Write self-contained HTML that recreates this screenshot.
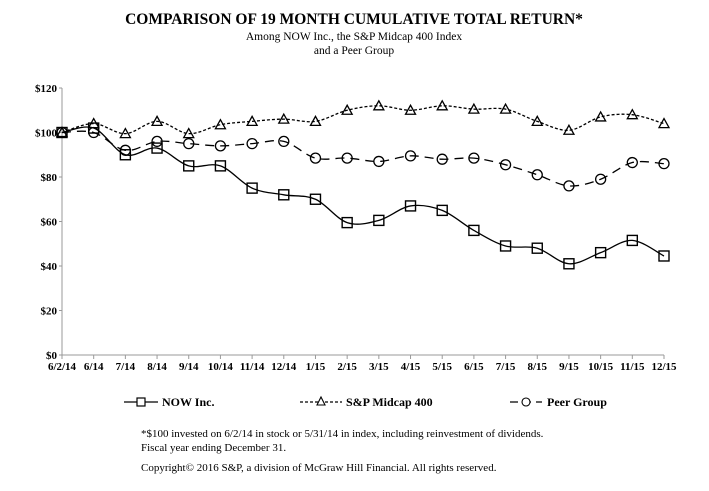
<!DOCTYPE html>
<html><head><meta charset="utf-8"><style>
body{margin:0;background:#fff;width:709px;height:486px;overflow:hidden;font-family:"Liberation Serif",serif;}
svg text{font-family:"Liberation Serif",serif;}
</style></head><body>
<svg id="c" width="709" height="486">
<text x="354" y="24" text-anchor="middle" font-size="15.5" font-weight="bold">COMPARISON OF 19 MONTH CUMULATIVE TOTAL RETURN*</text>
<text x="354" y="40" text-anchor="middle" font-size="11.5">Among NOW Inc., the S&amp;P Midcap 400 Index</text>
<text x="354" y="54" text-anchor="middle" font-size="11.5">and a Peer Group</text>
<g id="axes"></g><g id="series"></g>
<g>
<g><line x1="124" y1="402" x2="158" y2="402" stroke="#000" stroke-width="1.3"/><rect x="137" y="398" width="8" height="8" fill="#fff" stroke="#000" stroke-width="1.2"/><text x="162" y="406" font-size="12" font-weight="bold">NOW Inc.</text></g>
<g><line x1="300" y1="402" x2="342" y2="402" stroke="#000" stroke-width="1.2" stroke-dasharray="3,2"/><path d="M321 397 L325 405 L317 405 Z" fill="#fff" stroke="#000" stroke-width="1.1"/><text x="346" y="406" font-size="12" font-weight="bold">S&amp;P Midcap 400</text></g>
<g><line x1="510" y1="402" x2="542" y2="402" stroke="#000" stroke-width="1.3" stroke-dasharray="8,5"/><circle cx="526" cy="402" r="4" fill="#fff" stroke="#000" stroke-width="1.1"/><text x="547" y="406" font-size="12" font-weight="bold">Peer Group</text></g>
</g>
<text x="141" y="437" font-size="11">*$100 invested on 6/2/14 in stock or 5/31/14 in index, including reinvestment of dividends.</text>
<text x="141" y="451" font-size="11">Fiscal year ending December 31.</text>
<text x="141" y="471" font-size="11">Copyright© 2016 S&amp;P, a division of McGraw Hill Financial. All rights reserved.</text>
</svg>
<script>
const categories=["6/2/14","6/14","7/14","8/14","9/14","10/14","11/14","12/14","1/15","2/15","3/15","4/15","5/15","6/15","7/15","8/15","9/15","10/15","11/15","12/15"];
const nowInc=[100,102,90,93,85,85,75,72,70,59.5,60.5,67,65,56,49,48,41,46,51.5,44.5];
const spMidcap=[100,104,99.5,105,99.5,103.5,105,106,105,110,112,110,112,110.5,110.5,105,101,107,108,104];
const peerGroup=[100,100,92,96,95,94,95,96,88.5,88.5,87,89.5,88,88.5,85.5,81,76,79,86.5,86];
const yTicks=[0,20,40,60,80,100,120];
const NS="http://www.w3.org/2000/svg";
const x0=62,x1=664,yBase=355,yTop=88;
const xS=i=>x0+i*(x1-x0)/(categories.length-1);
const yS=v=>yBase-(v/120)*(yBase-yTop);
function mk(t,a,p){const e=document.createElementNS(NS,t);for(const k in a)e.setAttribute(k,a[k]);p.appendChild(e);return e;}
const ax=document.getElementById('axes'),sg=document.getElementById('series');
let e=mk('line',{x1:x0,y1:yBase,x2:x1,y2:yBase,stroke:'#999','stroke-width':1},ax);

e=mk('line',{x1:x0,y1:yTop,x2:x0,y2:yBase,stroke:'#999','stroke-width':1},ax);

yTicks.forEach(v=>{const y=yS(v);mk('line',{x1:x0-3,y1:y,x2:x0,y2:y,stroke:'#999'},ax);
const t=mk('text',{x:x0-5,y:y+4,'text-anchor':'end','font-size':'11','font-weight':'bold'},ax);t.textContent='$'+v;
});
categories.forEach((c,i)=>{const x=xS(i);mk('line',{x1:x,y1:yBase,x2:x,y2:yBase+4,stroke:'#999'},ax);
const t=mk('text',{x:x,y:yBase+15,'text-anchor':'middle','font-size':'11','font-weight':'bold'},ax);t.textContent=c;
});
function smooth(pts){let d='M'+pts[0][0]+' '+pts[0][1];for(let i=0;i<pts.length-1;i++){const p0=pts[i-1]||pts[i],p1=pts[i],p2=pts[i+1],p3=pts[i+2]||p2;
const c1=[p1[0]+(p2[0]-p0[0])/6,p1[1]+(p2[1]-p0[1])/6],c2=[p2[0]-(p3[0]-p1[0])/6,p2[1]-(p3[1]-p1[1])/6];
d+=` C${c1[0]} ${c1[1]} ${c2[0]} ${c2[1]} ${p2[0]} ${p2[1]}`;}return d;}
function series(vals,name,dash,marker){const g=mk('g',{},sg);

const pts=vals.map((v,i)=>[xS(i),yS(v)]);
const p=mk('path',{d:smooth(pts),fill:'none',stroke:'#000','stroke-width':1.3,'stroke-dasharray':dash},g);

pts.forEach(([x,y])=>{let m;
if(marker==='sq')m=mk('rect',{x:x-5,y:y-5,width:10,height:10,fill:'none',stroke:'#000','stroke-width':1.4},g);
else if(marker==='tri')m=mk('path',{d:`M${x} ${y-5} L${x+5} ${y+4} L${x-5} ${y+4} Z`,fill:'none',stroke:'#000','stroke-width':1.3},g);
else m=mk('circle',{cx:x,cy:y,r:5,fill:'none',stroke:'#000','stroke-width':1.3},g);
});}
series(spMidcap,'sp-midcap-400','3,2','tri');
series(peerGroup,'peer-group','9,6','circ');
series(nowInc,'now-inc','none','sq');
</script>
</body></html>
